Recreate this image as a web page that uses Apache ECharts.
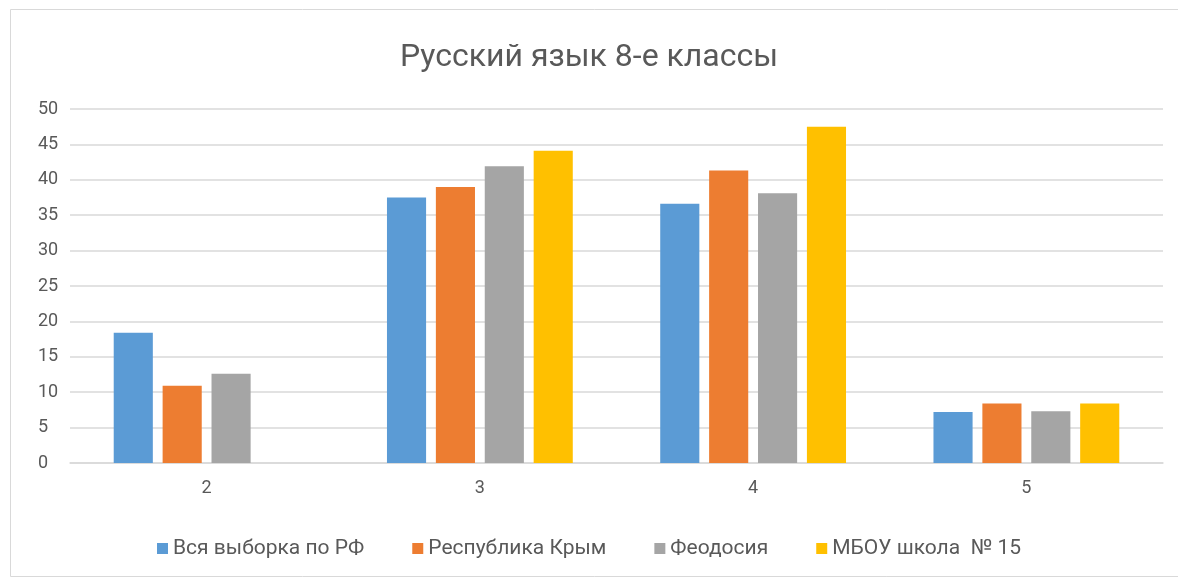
<!DOCTYPE html>
<html>
<head>
<meta charset="utf-8">
<script src="https://cdn.jsdelivr.net/npm/echarts@6/dist/echarts.min.js"></script>
<style>
  html, body { margin: 0; padding: 0; background: #fff; }
  #chart { width: 1178px; height: 579px; }
</style>
</head>
<body>
<div id="chart"></div>
<script>
// данные
var categories = ['2', '3', '4', '5']
var seriesNames = ['Вся выборка по РФ', 'Республика Крым', 'Феодосия', 'МБОУ школа  № 15']
var rfValues = [18.4, 37.5, 36.6, 7.2]
var krymValues = [10.9, 39.0, 41.3, 8.4]
var feodosiyaValues = [12.6, 41.9, 38.1, 7.3]
var schoolValues = [null, 44.1, 47.5, 8.4]
var colors = ['#5b9bd5', '#ed7d31', '#a5a5a5', '#ffc000']

var font = "'Liberation Sans Narrow', 'Roboto', sans-serif"
var allValues = [rfValues, krymValues, feodosiyaValues, schoolValues]

var series = []
for (var i = 0; i < seriesNames.length; i++) {
  series.push({
    name: seriesNames[i],
    type: 'bar',
    data: allValues[i],
    barGap: '25%',
    barCategoryGap: '32%',
    itemStyle: { color: colors[i] }
  })
}

var myChart = echarts.init(document.getElementById('chart'))
var option = {
  animation: false,
  color: colors,
  title: {
    text: 'Русский язык 8-е классы',
    left: 'center',
    top: 37,
    textStyle: {
      color: '#595959',
      fontSize: 32,
      fontWeight: 'normal',
      fontFamily: font
    }
  },
  graphic: [{
    type: 'rect',
    shape: { x: 10.5, y: 9.5, width: 1180, height: 567 },
    style: { fill: 'none', stroke: '#d9d9d9', lineWidth: 1 },
    silent: true
  }],
  legend: {
    bottom: 15,
    left: 'center',
    itemWidth: 11,
    itemHeight: 11,
    itemGap: 48,
    icon: 'rect',
    textStyle: { color: '#595959', fontSize: 21, fontFamily: font }
  },
  grid: {
    left: 70,
    right: 15,
    top: 109,
    bottom: 116
  },
  xAxis: {
    type: 'category',
    data: categories,
    axisLine: { lineStyle: { color: '#d9d9d9', width: 1.5 } },
    axisTick: { show: false },
    axisLabel: { color: '#595959', fontSize: 18, fontFamily: font, margin: 16 }
  },
  yAxis: {
    type: 'value',
    min: 0,
    max: 50,
    interval: 5,
    axisLine: { show: false },
    axisTick: { show: false },
    splitLine: { lineStyle: { color: '#d9d9d9', width: 1.5 } },
    axisLabel: { color: '#595959', fontSize: 18, fontFamily: font, margin: 32, align: 'left' }
  },
  series: series
}
myChart.setOption(option)
</script>
</body>
</html>
